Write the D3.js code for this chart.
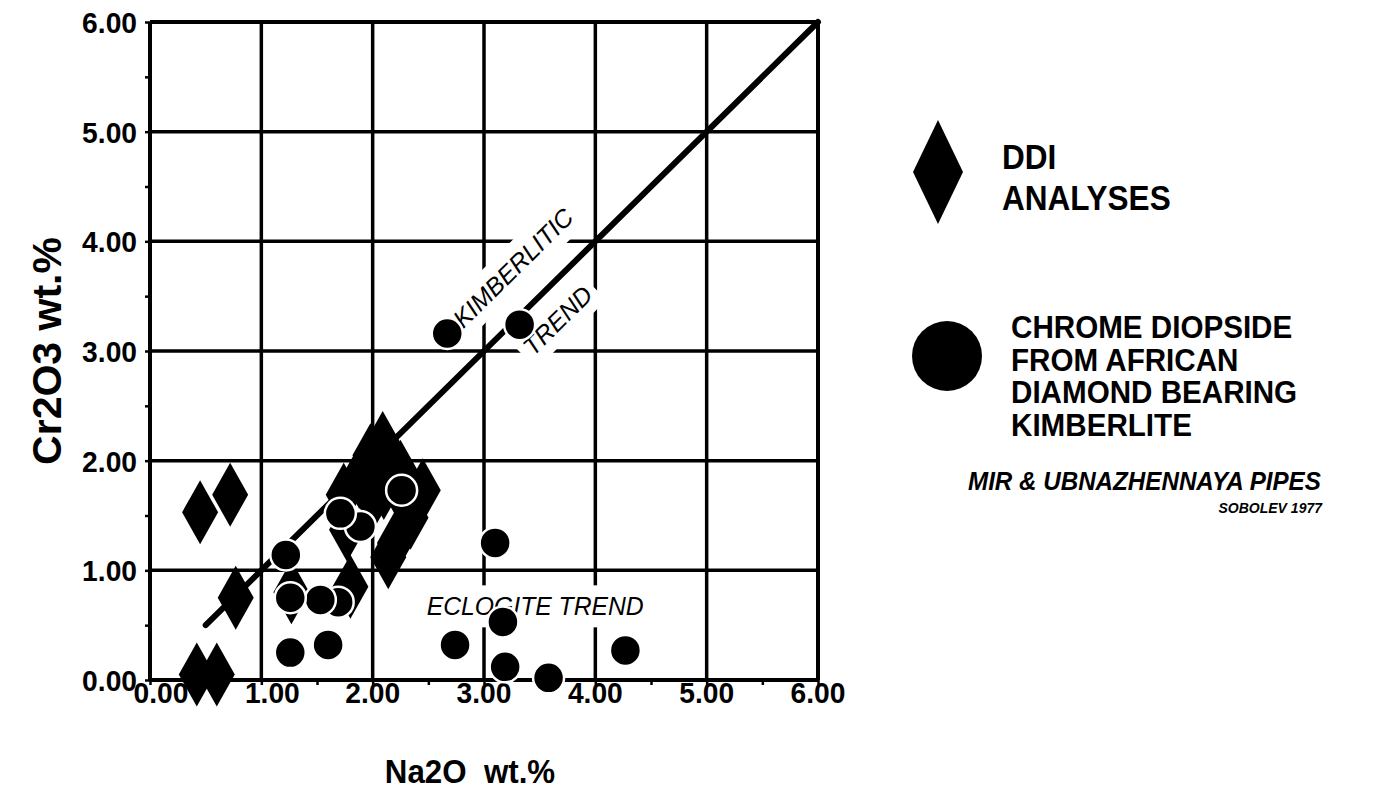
<!DOCTYPE html>
<html><head><meta charset="utf-8">
<script src="https://cdn.jsdelivr.net/npm/d3@7"></script>
<style>
body{margin:0;background:#fff}
svg{display:block}
text{font-family:"Liberation Sans",Arial,Helvetica,sans-serif;fill:#000}
</style>
</head><body>
<svg id="chart" width="1375" height="795"></svg>
<script>
// ---- data ----
const tickValues = [0, 1, 2, 3, 4, 5, 6];
const tickLabels = ["0.00", "1.00", "2.00", "3.00", "4.00", "5.00", "6.00"];
const minorTickValues = [0, 0.5, 1, 1.5, 2, 2.5, 3, 3.5, 4, 4.5, 5, 5.5, 6];

// DDI analyses (diamonds)
const ddiNa2O  = [0.42, 0.60, 0.45, 0.72, 0.77, 1.27, 1.80, 1.77, 1.74, 1.88, 1.98, 2.09, 2.00, 2.10, 2.25, 2.30, 2.45, 2.34, 2.20, 2.14];
const ddiCr2O3 = [0.05, 0.05, 1.53, 1.69, 0.75, 0.80, 0.85, 1.37, 1.69, 1.85, 2.05, 2.16, 1.65, 1.75, 1.90, 1.62, 1.73, 1.48, 1.25, 1.12];

// Chrome diopside from African diamond bearing kimberlite (circles)
const cdNa2O  = [2.67, 3.32, 3.10, 1.22, 1.89, 1.71, 2.26, 1.69, 1.53, 1.26, 1.26, 1.60, 2.74, 3.17, 3.19, 3.58, 4.27];
const cdCr2O3 = [3.16, 3.24, 1.25, 1.14, 1.40, 1.52, 1.73, 0.71, 0.73, 0.75, 0.25, 0.32, 0.32, 0.53, 0.12, 0.02, 0.27];

// Kimberlitic trend line
const trendNa2O  = [0.5, 6.0];
const trendCr2O3 = [0.5, 6.0];

// Annotations
const annoText = ["KIMBERLITIC", "TREND", "ECLOGITE TREND"];
const annoNa2O = [3.26, 3.66, 3.46];
const annoCr2O3 = [3.76, 3.28, 0.675];
const annoRotated = [true, true, false];

const legendDDI = ["DDI", "ANALYSES"];
const legendCD = ["CHROME DIOPSIDE", "FROM AFRICAN", "DIAMOND BEARING", "KIMBERLITE"];
const legendSub = "MIR & UBNAZHENNAYA PIPES";
const legendRef = "SOBOLEV 1977";

// ---- helpers ----
function squeeze(sel, f) {
  sel.each(function () {
    const w = this.getComputedTextLength();
    d3.select(this).attr("textLength", w * f).attr("lengthAdjust", "spacingAndGlyphs");
  });
  return sel;
}

// ---- drawing ----
const svg = d3.select("#chart");
const x = d3.scaleLinear().domain([0, 6]).range([150, 818]);
const y = d3.scaleLinear().domain([0, 6]).range([680, 22]);

const grid = svg.append("g");
grid.selectAll("line.v").data(tickValues).join("line")
  .attr("x1", d => x(d)).attr("x2", d => x(d))
  .attr("y1", y(0)).attr("y2", y(6))
  .attr("stroke", "#000").attr("stroke-width", d => (d === 0 || d === 6) ? 4 : 3.5);
grid.selectAll("line.h").data(tickValues).join("line")
  .attr("y1", d => y(d)).attr("y2", d => y(d))
  .attr("x1", x(0)).attr("x2", x(6))
  .attr("stroke", "#000").attr("stroke-width", d => (d === 0 || d === 6) ? 4 : 3.5);

// minor / major tick stubs
const tx = d3.axisBottom(x).tickValues(minorTickValues).tickSize(5).tickFormat("");
const gx = svg.append("g").attr("transform", `translate(0,${y(0)})`).call(tx);
gx.select(".domain").remove();
gx.selectAll("line").attr("stroke", "#000").attr("stroke-width", 2.5);
const ty = d3.axisLeft(y).tickValues(minorTickValues).tickSize(5).tickFormat("");
const gy = svg.append("g").attr("transform", `translate(${x(0)},0)`).call(ty);
gy.select(".domain").remove();
gy.selectAll("line").attr("stroke", "#000").attr("stroke-width", 2.5);

// tick labels
squeeze(svg.append("g").selectAll("text").data(tickValues).join("text")
  .attr("x", 137).attr("y", d => y(d) + 11)
  .attr("text-anchor", "end")
  .style("font-size", "30px").style("font-weight", "bold")
  .text((d, i) => tickLabels[i]), 0.94);
squeeze(svg.append("g").selectAll("text").data(tickValues).join("text")
  .attr("x", d => x(d) + (d < 2 ? 11 : 0)).attr("y", 703)
  .attr("text-anchor", "middle")
  .style("font-size", "30px").style("font-weight", "bold")
  .text((d, i) => tickLabels[i]), 0.94);

// axis titles
svg.append("text").attr("transform", "translate(61,351) rotate(-90)")
  .attr("text-anchor", "middle")
  .style("font-size", "41px").style("font-weight", "bold")
  .text("Cr2O3 wt.%");
squeeze(svg.append("text").attr("x", 470).attr("y", 783)
  .attr("text-anchor", "middle")
  .style("font-size", "34px").style("font-weight", "bold")
  .attr("xml:space", "preserve")
  .text("Na2O  wt.%"), 0.92);

// annotation labels with white boxes (break the grid)
const angle = Math.atan2(y(6) - y(0), x(6) - x(0)) * 180 / Math.PI; // line angle on screen
const annoG = svg.append("g");
annoText.forEach((t, i) => {
  const g = annoG.append("g")
    .attr("transform", `translate(${x(annoNa2O[i])},${y(annoCr2O3[i])}) rotate(${annoRotated[i] ? angle : 0})`);
  const txt = g.append("text")
    .attr("text-anchor", "middle").attr("dy", "0.36em")
    .style("font-size", i === 2 ? "26px" : "25px").style("font-style", "italic")
    .text(t);
  if (i === 2) squeeze(txt, 0.95);
  const bb = txt.node().getBBox();
  g.insert("rect", "text")
    .attr("x", bb.x - 6).attr("y", bb.y - 6)
    .attr("width", bb.width + 12).attr("height", bb.height + 12)
    .attr("fill", "#fff");
});

// trend line
svg.append("line")
  .attr("x1", x(trendNa2O[0])).attr("y1", y(trendCr2O3[0]))
  .attr("x2", x(trendNa2O[1])).attr("y2", y(trendCr2O3[1]))
  .attr("stroke", "#000").attr("stroke-width", 6).attr("stroke-linecap", "round");

// diamonds
const dW = 18, dH = 32;
const diamondPath = (w, h) => `M0,${-h}L${w},0L0,${h}L${-w},0Z`;
svg.append("g").selectAll("path").data(ddiNa2O).join("path")
  .attr("transform", (d, i) => `translate(${x(d)},${y(ddiCr2O3[i])})`)
  .attr("d", diamondPath(dW, dH))
  .attr("fill", "#000");

// circles
svg.append("g").selectAll("circle").data(cdNa2O).join("circle")
  .attr("cx", d => x(d)).attr("cy", (d, i) => y(cdCr2O3[i]))
  .attr("r", 15.5)
  .attr("fill", "#000").attr("stroke", "#fff").attr("stroke-width", 2.5);

// legend
const leg = svg.append("g");
leg.append("path").attr("transform", "translate(938,172)").attr("d", diamondPath(25, 52)).attr("fill", "#000");
squeeze(leg.selectAll("text.ddi").data(legendDDI).join("text")
  .attr("x", 1002).attr("y", (d, i) => 169 + i * 41)
  .style("font-size", "35px").style("font-weight", "bold")
  .text(d => d), 0.9);
leg.append("circle").attr("cx", 947).attr("cy", 356).attr("r", 35).attr("fill", "#000");
squeeze(leg.selectAll("text.cd").data(legendCD).join("text")
  .attr("x", 1011).attr("y", (d, i) => 338 + i * 32.7)
  .style("font-size", "32px").style("font-weight", "bold")
  .text(d => d), 0.925);
squeeze(leg.append("text").attr("x", 968).attr("y", 490)
  .style("font-size", "26px").style("font-weight", "bold").style("font-style", "italic")
  .text(legendSub), 0.93);
leg.append("text").attr("x", 1322).attr("y", 513).attr("text-anchor", "end")
  .style("font-size", "14px").style("font-weight", "bold").style("font-style", "italic")
  .text(legendRef);
</script>
</body></html>
